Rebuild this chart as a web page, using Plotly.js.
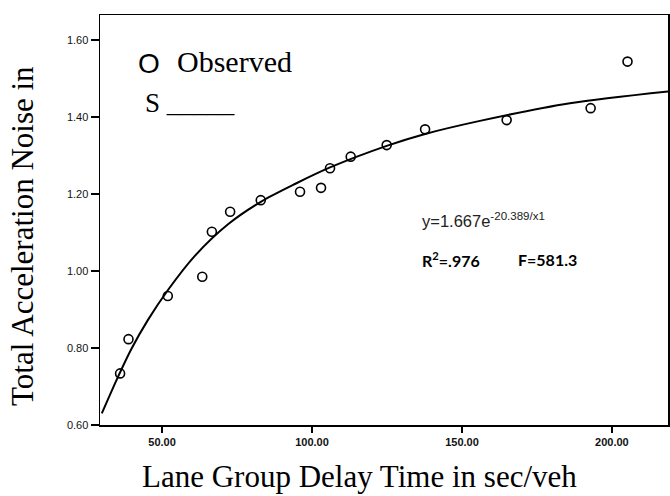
<!DOCTYPE html>
<html>
<head>
<meta charset="utf-8">
<script src="https://cdn.plot.ly/plotly-3.0.1.min.js"></script>
<style>html,body{margin:0;padding:0;background:#fff}#chart{width:670px;height:496px}</style>
</head>
<body>
<div id="chart"></div>
<script>
// Observed points (delay in sec/veh, total acceleration noise)
const obsDelay = [36.0, 38.8, 51.9, 63.4, 66.6, 72.7, 82.9, 96.0, 103.0, 106.0, 112.9, 124.9, 137.7, 164.9, 192.9, 205.2];
const obsNoise = [0.734, 0.823, 0.935, 0.985, 1.102, 1.154, 1.184, 1.206, 1.216, 1.267, 1.297, 1.327, 1.368, 1.392, 1.423, 1.544];

// Fitted S curve
const fitDelay = [29.9, 35.3, 39.8, 45.3, 51.9, 61.0, 72.1, 83.2, 94.3, 106.0, 124.9, 137.7, 156.0, 186.0, 219.3];
const fitNoise = [0.630, 0.725, 0.798, 0.873, 0.950, 1.040, 1.122, 1.181, 1.226, 1.269, 1.325, 1.356, 1.390, 1.436, 1.467];

const xTickVals = [50, 100, 150, 200];
const xTickText = ['50.00', '100.00', '150.00', '200.00'];
const yTickVals = [0.6, 0.8, 1.0, 1.2, 1.4, 1.6];
const yTickText = ['0.60', '0.80', '1.00', '1.20', '1.40', '1.60'];

const traces = [
  {
    x: fitDelay, y: fitNoise, type: 'scatter', mode: 'lines',
    line: {color: '#000', width: 2, shape: 'spline', smoothing: 0.8},
    hoverinfo: 'skip', showlegend: false
  },
  {
    x: obsDelay, y: obsNoise, type: 'scatter', mode: 'markers',
    marker: {symbol: 'circle-open', size: 9, color: '#000', line: {width: 1.6, color: '#000'}},
    showlegend: false
  }
];

const W = 568, H = 410, L = 100, T = 15;
function px(x) { return (x - L) / W; }
function py(y) { return (T + H - y) / H; }

const layout = {
  width: 670, height: 496,
  margin: {l: 100, r: 2, t: 15, b: 71},
  paper_bgcolor: '#fff', plot_bgcolor: '#fff',
  showlegend: false,
  xaxis: {
    range: [29.3, 218.7], showgrid: false, zeroline: false,
    showline: true, linecolor: '#000', linewidth: 1.5, mirror: true,
    ticks: 'outside', ticklen: 6, tickwidth: 1.5, tickcolor: '#000',
    tickvals: xTickVals, ticktext: xTickText,
    tickfont: {family: 'Liberation Sans, Arial, sans-serif', size: 11, color: '#111', weight: 'bold'}
  },
  yaxis: {
    range: [0.6, 1.665], showgrid: false, zeroline: false,
    showline: true, linecolor: '#000', linewidth: 1.5, mirror: true,
    ticks: 'outside', ticklen: 8, tickwidth: 1.5, tickcolor: '#000',
    tickvals: yTickVals, ticktext: yTickText,
    tickfont: {family: 'Liberation Sans, Arial, sans-serif', size: 11, color: '#111'}
  },
  annotations: [
    {xref: 'paper', yref: 'paper', x: px(22), y: py(236), text: 'Total Acceleration Noise in',
     textangle: -90, showarrow: false, xanchor: 'center', yanchor: 'middle',
     font: {family: 'Liberation Serif, Times New Roman, serif', size: 31, color: '#000'}},
    {xref: 'paper', yref: 'paper', x: px(359), y: py(476), text: 'Lane Group Delay Time in sec/veh',
     showarrow: false, xanchor: 'center', yanchor: 'middle',
     font: {family: 'Liberation Serif, Times New Roman, serif', size: 31, color: '#000'}},
    {xref: 'paper', yref: 'paper', x: px(136), y: py(63), text: 'O',
     showarrow: false, xanchor: 'left', yanchor: 'middle',
     font: {family: 'Liberation Sans, Arial, sans-serif', size: 28, color: '#000'}},
    {xref: 'paper', yref: 'paper', x: px(175), y: py(62), text: 'Observed',
     showarrow: false, xanchor: 'left', yanchor: 'middle',
     font: {family: 'Liberation Serif, Times New Roman, serif', size: 30, color: '#000'}},
    {xref: 'paper', yref: 'paper', x: px(143), y: py(103), text: 'S _____',
     showarrow: false, xanchor: 'left', yanchor: 'middle',
     font: {family: 'Liberation Serif, Times New Roman, serif', size: 27, color: '#000'}},
    {xref: 'paper', yref: 'paper', x: px(420), y: py(220), text: 'y=1.667e<sup>-20.389/x1</sup>',
     showarrow: false, xanchor: 'left', yanchor: 'middle',
     font: {family: 'Liberation Sans, Arial, sans-serif', size: 16.5, color: '#222'}},
    {xref: 'paper', yref: 'paper', x: px(420), y: py(259), text: 'R<sup>2</sup>=.976',
     showarrow: false, xanchor: 'left', yanchor: 'middle',
     font: {family: 'Lato, Liberation Sans, sans-serif', size: 16, color: '#000', weight: 'bold'}},
    {xref: 'paper', yref: 'paper', x: px(516), y: py(259), text: 'F=581.3',
     showarrow: false, xanchor: 'left', yanchor: 'middle',
     font: {family: 'Lato, Liberation Sans, sans-serif', size: 16, color: '#000', weight: 'bold'}}
  ]
};

Plotly.newPlot('chart', traces, layout, {staticPlot: true, displayModeBar: false});
</script>
</body>
</html>
